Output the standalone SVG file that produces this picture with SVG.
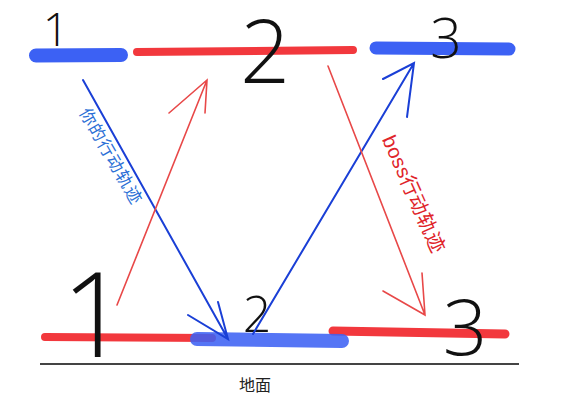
<svg xmlns="http://www.w3.org/2000/svg" width="580" height="411" viewBox="0 0 580 411">
<style>
.num{font-family:"Open Sans","Liberation Sans",sans-serif;font-weight:300;fill:#111;text-anchor:middle}
.bb{stroke:#3c61f4;stroke-linecap:round;fill:none}
.rb{stroke:#f2383d;stroke-linecap:round;fill:none}
.ba{stroke:#1a3fd6;stroke-width:2;fill:none;stroke-linecap:round}
.ra{stroke:#e84848;stroke-width:1.6;fill:none;stroke-linecap:round}
</style>
<rect width="580" height="411" fill="#fff"/>
<g id="platforms">
<g id="top-1"><line class="bb" x1="36" y1="55.5" x2="121" y2="55" stroke-width="14"/><text class="num" x="56" y="46" font-size="46">1</text></g>
<g id="top-2"><line class="rb" x1="137" y1="52" x2="353" y2="50" stroke-width="8"/><text class="num" x="265" y="83" font-size="88">2</text></g>
<g id="top-3"><line class="bb" x1="376" y1="48" x2="509" y2="49" stroke-width="13"/><text class="num" x="446" y="58" font-size="55">3</text></g>
<g id="bottom-1"><line class="rb" x1="45" y1="337" x2="212" y2="338" stroke-width="8"/></g>
<g id="bottom-3"><line class="rb" x1="333" y1="331" x2="505" y2="334" stroke-width="9"/></g>
<g id="bottom-2"><line class="bb" x1="197" y1="339" x2="342" y2="341" stroke-width="14" opacity="0.87"/><text class="num" x="257" y="332" font-size="50">2</text></g>
<text class="num" x="95" y="357" font-size="118">1</text>
<text class="num" x="465" y="355" font-size="78">3</text>
</g>
<g id="connectors">
<path class="ba" d="M83 80 L228 339 M188 315 L228 339 L218 302"/>
<path class="ra" d="M117 305 L207 80 M169 113 L207 80 L205 113"/>
<path class="ba" d="M253 334 L414 63 M383 79 L414 63 L407 117"/>
<path class="ra" d="M328 66 L425 315 M383 291 L425 315 L422 273"/>
</g>
<g id="labels">
<text x="78" y="113" transform="rotate(60 78 113)" font-family="'Noto Sans CJK SC',sans-serif" font-size="17" letter-spacing="1" fill="#2b6fd6" dy="-1">你的行动轨迹</text>
<text x="378" y="141" transform="rotate(66 378 141)" font-family="'Liberation Sans','Noto Sans CJK SC',sans-serif" font-size="20" letter-spacing="0.5" fill="#e0242a" dy="-4">boss行动轨迹</text>
</g>
<g id="ground">
<line x1="40" y1="364" x2="519" y2="364" stroke="#444" stroke-width="2"/>
<text x="255" y="391" font-family="'Noto Sans CJK SC',sans-serif" font-size="16" fill="#222" text-anchor="middle">地面</text>
</g>
</svg>
